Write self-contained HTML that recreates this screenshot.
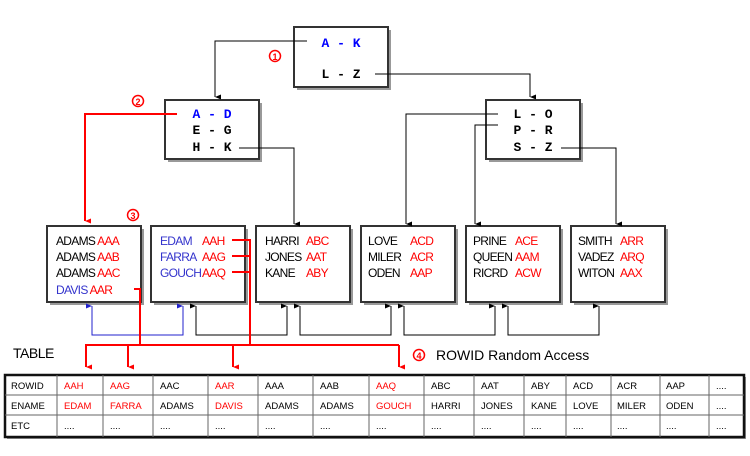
<!DOCTYPE html>
<html><head><meta charset="utf-8"><style>html,body{margin:0;padding:0;background:#fff}svg{display:block}</style></head>
<body>
<svg width="750" height="456" viewBox="0 0 750 456" xmlns="http://www.w3.org/2000/svg" font-family="Liberation Sans, sans-serif">
<defs>
<marker id="ak" markerWidth="8" markerHeight="8" refX="4" refY="7" orient="auto-start-reverse" markerUnits="userSpaceOnUse"><path d="M1.5,1 L4,7 L6.5,1 Z" fill="#000"/></marker>
<marker id="ar" markerWidth="8" markerHeight="8" refX="4" refY="7" orient="auto-start-reverse" markerUnits="userSpaceOnUse"><path d="M1.5,1 L4,7 L6.5,1 Z" fill="#f00"/></marker>
<marker id="ab" markerWidth="8" markerHeight="8" refX="4" refY="7" orient="auto-start-reverse" markerUnits="userSpaceOnUse"><path d="M1.5,1 L4,7 L6.5,1 Z" fill="#22c"/></marker>
</defs>
<g fill="#999">
<rect x="297" y="30" width="94" height="60"/>
<rect x="168" y="103" width="94" height="59"/>
<rect x="489" y="103" width="94" height="59"/>
<rect x="50" y="229" width="94" height="76"/>
<rect x="154" y="229" width="94" height="76"/>
<rect x="259" y="229" width="94" height="76"/>
<rect x="364" y="229" width="94" height="76"/>
<rect x="469" y="229" width="94" height="76"/>
<rect x="574" y="229" width="94" height="76"/>
</g>
<g fill="#fff" stroke="#333" stroke-width="2">
<rect x="294" y="27" width="94" height="60"/>
<rect x="165" y="100" width="94" height="59"/>
<rect x="486" y="100" width="94" height="59"/>
<rect x="47" y="226" width="94" height="76"/>
<rect x="151" y="226" width="94" height="76"/>
<rect x="256" y="226" width="94" height="76"/>
<rect x="361" y="226" width="94" height="76"/>
<rect x="466" y="226" width="94" height="76"/>
<rect x="571" y="226" width="94" height="76"/>
</g>
<g fill="none" stroke="#000" stroke-width="1" shape-rendering="crispEdges">
<polyline points="307,41 215,41 215,97" marker-end="url(#ak)"/>
<polyline points="375,74 530,74 530,97" marker-end="url(#ak)"/>
<polyline points="239,148 294,148 294,224" marker-end="url(#ak)"/>
<polyline points="498,114 406,114 406,224" marker-end="url(#ak)"/>
<polyline points="498,125 475,125 475,224" marker-end="url(#ak)"/>
<polyline points="561,148 616,148 616,224" marker-end="url(#ak)"/>
<polyline points="196,306 196,335 287,335 287,306" marker-start="url(#ak)" marker-end="url(#ak)"/>
<polyline points="300,306 300,335 391,335 391,306" marker-start="url(#ak)" marker-end="url(#ak)"/>
<polyline points="404,306 404,335 495,335 495,306" marker-start="url(#ak)" marker-end="url(#ak)"/>
<polyline points="508,306 508,335 599,335 599,306" marker-start="url(#ak)" marker-end="url(#ak)"/>
</g>
<polyline points="92,306 92,335 183,335 183,306" fill="none" stroke="#22c" stroke-width="1" shape-rendering="crispEdges" marker-start="url(#ab)" marker-end="url(#ab)"/>
<g fill="none" stroke="#f00" stroke-width="2">
<polyline points="177,114 85,114 85,221" marker-end="url(#ar)"/>
<polyline points="134,289 140,289 140,345"/>
<polyline points="232,240 250,240 250,345"/>
<line x1="232" y1="256" x2="250" y2="256"/>
<line x1="232" y1="272" x2="250" y2="272"/>
<line x1="85" y1="345" x2="399" y2="345"/>
<line x1="86" y1="345" x2="86" y2="367" marker-end="url(#ar)"/>
<line x1="128" y1="345" x2="128" y2="367" marker-end="url(#ar)"/>
<line x1="233" y1="345" x2="233" y2="367" marker-end="url(#ar)"/>
<line x1="399" y1="345" x2="399" y2="367" marker-end="url(#ar)"/>
</g>
<g font-size="13" font-family="Liberation Mono, monospace" text-anchor="middle" font-weight="bold">
<text x="341" y="47" fill="#00f">A - K</text>
<text x="341" y="78">L - Z</text>
<text x="212" y="118" fill="#00f">A - D</text>
<text x="212" y="134">E - G</text>
<text x="212" y="151">H - K</text>
<text x="533" y="118">L - O</text>
<text x="533" y="134">P - R</text>
<text x="533" y="151">S - Z</text>
</g>
<g font-size="12" fill="#f00" text-anchor="middle">
<circle cx="275" cy="56" r="5.5" fill="none" stroke="#f00" stroke-width="1.5"/><text x="275" y="60" font-size="9" font-weight="bold">1</text>
<circle cx="138" cy="101" r="5.5" fill="none" stroke="#f00" stroke-width="1.5"/><text x="138" y="105" font-size="9" font-weight="bold">2</text>
<circle cx="133" cy="215" r="5.5" fill="none" stroke="#f00" stroke-width="1.5"/><text x="133" y="219" font-size="9" font-weight="bold">3</text>
<circle cx="419" cy="355" r="5.5" fill="none" stroke="#f00" stroke-width="1.5"/><text x="419" y="359" font-size="9" font-weight="bold">4</text>
</g>
<g font-size="12" letter-spacing="-0.7">
<text x="56" y="245">ADAMS <tspan fill="#f00">AAA</tspan></text>
<text x="56" y="261">ADAMS <tspan fill="#f00">AAB</tspan></text>
<text x="56" y="277">ADAMS <tspan fill="#f00">AAC</tspan></text>
<text x="56" y="294" fill="#33c">DAVIS <tspan fill="#f00">AAR</tspan></text>
<text x="160" y="245" fill="#33c">EDAM</text><text x="202" y="245" fill="#f00">AAH</text>
<text x="160" y="261" fill="#33c">FARRA</text><text x="202" y="261" fill="#f00">AAG</text>
<text x="160" y="277" fill="#33c">GOUCH</text><text x="202" y="277" fill="#f00">AAQ</text>
<text x="265" y="245">HARRI</text><text x="306" y="245" fill="#f00">ABC</text>
<text x="265" y="261">JONES</text><text x="306" y="261" fill="#f00">AAT</text>
<text x="265" y="277">KANE</text><text x="306" y="277" fill="#f00">ABY</text>
<text x="368" y="245">LOVE</text><text x="410" y="245" fill="#f00">ACD</text>
<text x="368" y="261">MILER</text><text x="410" y="261" fill="#f00">ACR</text>
<text x="368" y="277">ODEN</text><text x="410" y="277" fill="#f00">AAP</text>
<text x="473" y="245">PRINE</text><text x="515" y="245" fill="#f00">ACE</text>
<text x="473" y="261">QUEEN</text><text x="515" y="261" fill="#f00">AAM</text>
<text x="473" y="277">RICRD</text><text x="515" y="277" fill="#f00">ACW</text>
<text x="578" y="245">SMITH</text><text x="620" y="245" fill="#f00">ARR</text>
<text x="578" y="261">VADEZ</text><text x="620" y="261" fill="#f00">ARQ</text>
<text x="578" y="277">WITON</text><text x="620" y="277" fill="#f00">AAX</text>
</g>
<text x="13" y="358" font-size="14" letter-spacing="-0.5">TABLE</text>
<text x="436" y="360" font-size="14">ROWID Random Access</text>
<rect x="7" y="377" width="739" height="62" fill="#999"/>
<rect x="5" y="375" width="739" height="62" fill="#fff" stroke="#111" stroke-width="2.5"/>
<g stroke="#666" stroke-width="1" shape-rendering="crispEdges">
<line x1="5" y1="395" x2="744" y2="395"/><line x1="5" y1="415" x2="744" y2="415"/>
<line x1="57" y1="375" x2="57" y2="437"/><line x1="103" y1="375" x2="103" y2="437"/>
<line x1="153" y1="375" x2="153" y2="437"/><line x1="208" y1="375" x2="208" y2="437"/>
<line x1="258" y1="375" x2="258" y2="437"/><line x1="313" y1="375" x2="313" y2="437"/>
<line x1="369" y1="375" x2="369" y2="437"/><line x1="424" y1="375" x2="424" y2="437"/>
<line x1="474" y1="375" x2="474" y2="437"/><line x1="524" y1="375" x2="524" y2="437"/>
<line x1="566" y1="375" x2="566" y2="437"/><line x1="611" y1="375" x2="611" y2="437"/>
<line x1="660" y1="375" x2="660" y2="437"/><line x1="709" y1="375" x2="709" y2="437"/>
</g>
<g font-size="9.5">
<text x="11" y="389">ROWID</text><text x="11" y="409">ENAME</text><text x="11" y="429">ETC</text>
<text x="64" y="389" fill="#f00">AAH</text><text x="110" y="389" fill="#f00">AAG</text><text x="160" y="389">AAC</text><text x="215" y="389" fill="#f00">AAR</text><text x="265" y="389">AAA</text><text x="320" y="389">AAB</text><text x="376" y="389" fill="#f00">AAQ</text><text x="431" y="389">ABC</text><text x="481" y="389">AAT</text><text x="531" y="389">ABY</text><text x="573" y="389">ACD</text><text x="617" y="389">ACR</text><text x="666" y="389">AAP</text><text x="716" y="389">....</text>
<text x="64" y="409" fill="#f00">EDAM</text><text x="110" y="409" fill="#f00">FARRA</text><text x="160" y="409">ADAMS</text><text x="215" y="409" fill="#f00">DAVIS</text><text x="265" y="409">ADAMS</text><text x="320" y="409">ADAMS</text><text x="376" y="409" fill="#f00">GOUCH</text><text x="431" y="409">HARRI</text><text x="481" y="409">JONES</text><text x="531" y="409">KANE</text><text x="573" y="409">LOVE</text><text x="617" y="409">MILER</text><text x="666" y="409">ODEN</text><text x="716" y="409">....</text>
<text x="64" y="429">....</text><text x="110" y="429">....</text><text x="160" y="429">....</text><text x="215" y="429">....</text><text x="265" y="429">....</text><text x="320" y="429">....</text><text x="376" y="429">....</text><text x="431" y="429">....</text><text x="481" y="429">....</text><text x="531" y="429">....</text><text x="573" y="429">....</text><text x="617" y="429">....</text><text x="666" y="429">....</text><text x="716" y="429">....</text>
</g>
</svg>
</body></html>
